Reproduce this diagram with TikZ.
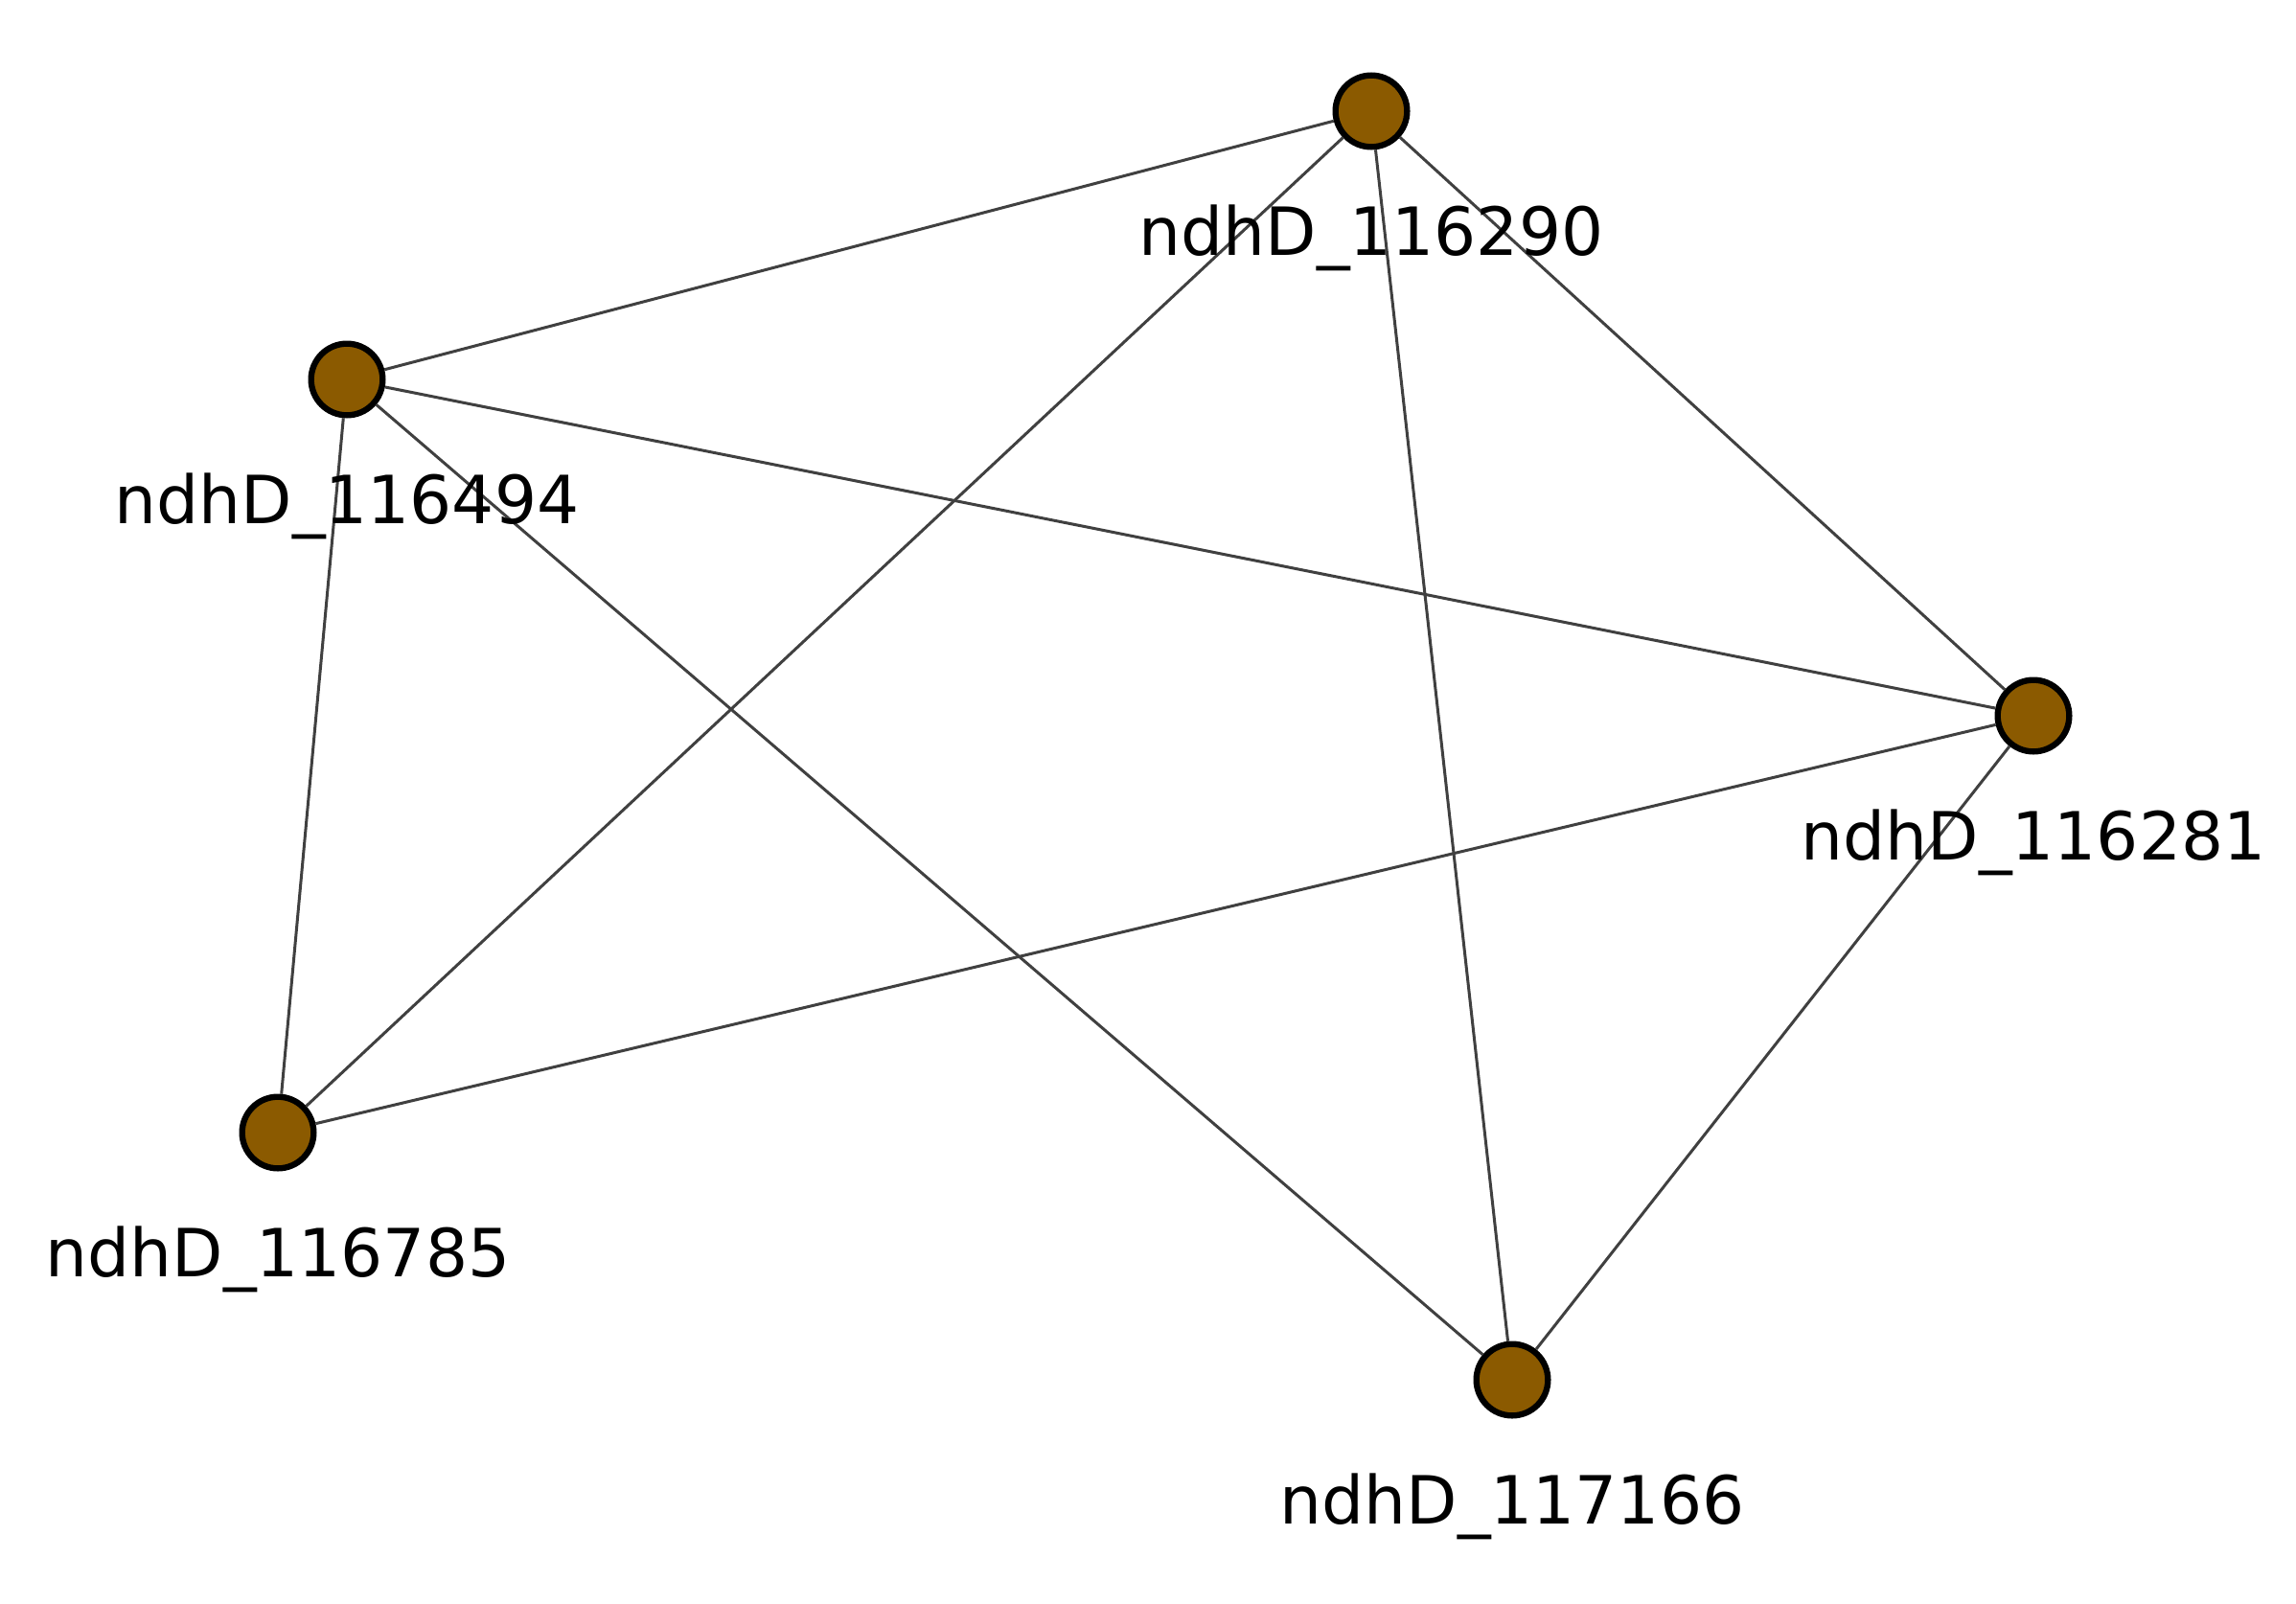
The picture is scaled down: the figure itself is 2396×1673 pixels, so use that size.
\documentclass[tikz,border=0pt]{standalone}
\usepackage{fontspec}
\setmainfont{DejaVu Sans}
\definecolor{nodefill}{RGB}{139,90,0}
\definecolor{edgecol}{RGB}{64,64,64}
\tikzset{
  gnode/.style={circle, draw=black, fill=nodefill, line width=1.9pt, minimum size=22.4pt, inner sep=0pt},
  gedge/.style={draw=edgecol, line width=0.9pt},
  glabel/.style={anchor=base, font=\fontsize{20.8pt}{24pt}\selectfont, inner sep=0pt}
}
\begin{document}
\begin{tikzpicture}[x=0.3pt,y=-0.3pt]
\useasboundingbox (0,0) rectangle (2396,1673);
\node[gnode] (a) at (1431,116) {};
\node[gnode] (b) at (362,396) {};
\node[gnode] (c) at (2122,747) {};
\node[gnode] (d) at (290,1182) {};
\node[gnode] (e) at (1578,1440) {};
\draw[gedge] (a) -- (b);
\draw[gedge] (a) -- (d);
\draw[gedge] (a) -- (e);
\draw[gedge] (a) -- (c);
\draw[gedge] (b) -- (c);
\draw[gedge] (b) -- (d);
\draw[gedge] (b) -- (e);
\draw[gedge] (c) -- (d);
\draw[gedge] (c) -- (e);
\node[glabel] (la) at (1431,266) {ndhD\_116290};
\node[glabel] (lb) at (362,546) {ndhD\_116494};
\node[glabel] (lc) at (2122,897) {ndhD\_116281};
\node[glabel] (ld) at (290,1332) {ndhD\_116785};
\node[glabel] (le) at (1578,1590) {ndhD\_117166};
\end{tikzpicture}
\end{document}
